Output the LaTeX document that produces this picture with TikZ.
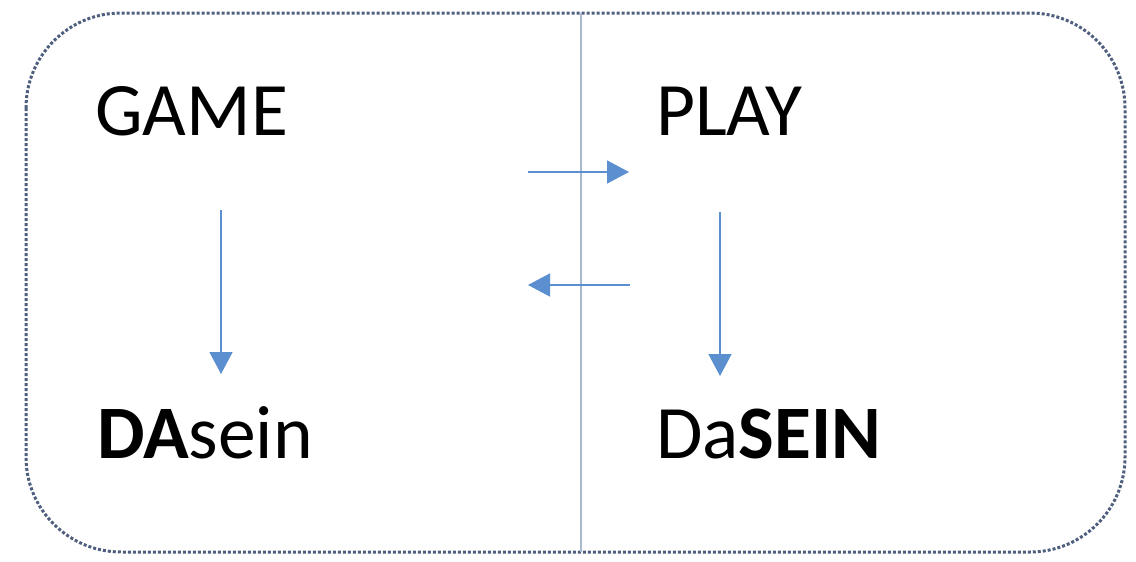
\documentclass[tikz,border=0pt]{standalone}
\usepackage{fontspec}
\setmainfont{Carlito}
\usetikzlibrary{arrows.meta}
\definecolor{arrowblue}{HTML}{5B8FD0}
\definecolor{borderblue}{HTML}{4E5E7E}
\definecolor{divider}{HTML}{A8B8D0}
\tikzset{
  word/.style={inner sep=0pt, anchor=base west, font=\fontsize{75.5}{82}\selectfont},
  flow/.style={draw=arrowblue, line width=1.6pt, -{Triangle[length=22pt,width=23pt]}},
}
\begin{document}
\begin{tikzpicture}[x=1pt,y=-1pt]
\useasboundingbox (0,0) rectangle (1136,562);
\draw[borderblue, line width=3pt, dotted, rounded corners=95pt] (26,13) rectangle (1125,552);
\draw[divider, line width=1.3pt] (581,13) -- (581,552);
\node[word] (game) at (95,135) {GAME};
\node[word] (play) at (656,135) {PLAY};
\node[word] (dasein1) at (97,458) {\textbf{DA}sein};
\node[word] (dasein2) at (656,458) {Da\textbf{SEIN}};
\coordinate (g1) at (221,210);
\coordinate (g2) at (221,374);
\coordinate (p1) at (720,212);
\coordinate (p2) at (720,376);
\coordinate (r1) at (528,172);
\coordinate (r2) at (629,172);
\coordinate (l1) at (630,285);
\coordinate (l2) at (528,285);
\draw[flow] (g1) -- (g2);
\draw[flow] (p1) -- (p2);
\draw[flow] (r1) -- (r2);
\draw[flow] (l1) -- (l2);
\end{tikzpicture}
\end{document}
